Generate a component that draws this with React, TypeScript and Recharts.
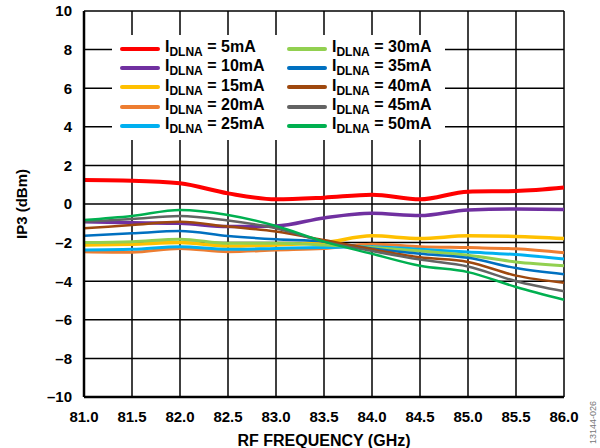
import React from "react";
import {
  LineChart, Line, XAxis, YAxis, CartesianGrid, Legend,
} from "recharts";

// RF frequency points (GHz)
const freqs = [81, 81.5, 82, 82.5, 83, 83.5, 84, 84.5, 85, 85.5, 86];

// IP3 (dBm) per LNA drain current
const ip3_5mA = [1.24, 1.21, 1.07, 0.55, 0.24, 0.33, 0.48, 0.24, 0.64, 0.67, 0.85];
const ip3_10mA = [-0.92, -0.97, -1.0, -1.17, -1.14, -0.72, -0.48, -0.6, -0.31, -0.26, -0.28];
const ip3_15mA = [-2.12, -2.08, -2.0, -2.18, -2.12, -2.0, -1.65, -1.79, -1.65, -1.68, -1.79];
const ip3_20mA = [-2.47, -2.5, -2.3, -2.47, -2.38, -2.3, -2.09, -2.21, -2.26, -2.32, -2.53];
const ip3_25mA = [-2.38, -2.35, -2.21, -2.35, -2.3, -2.25, -2.21, -2.35, -2.49, -2.62, -2.85];
const ip3_30mA = [-1.99, -1.95, -1.83, -2.04, -2.04, -2.12, -2.26, -2.44, -2.65, -3.0, -3.2];
const ip3_35mA = [-1.64, -1.52, -1.4, -1.66, -1.83, -1.95, -2.3, -2.58, -2.79, -3.32, -3.64];
const ip3_40mA = [-1.26, -1.09, -0.92, -1.17, -1.43, -1.87, -2.35, -2.76, -3.0, -3.71, -4.08];
const ip3_45mA = [-0.92, -0.78, -0.62, -0.86, -1.26, -1.95, -2.44, -2.88, -3.24, -4.0, -4.52];
const ip3_50mA = [-0.83, -0.62, -0.31, -0.57, -1.14, -1.95, -2.58, -3.2, -3.53, -4.3, -4.96];

const currents = ["5", "10", "15", "20", "25", "30", "35", "40", "45", "50"];
const seriesValues = [
  ip3_5mA, ip3_10mA, ip3_15mA, ip3_20mA, ip3_25mA,
  ip3_30mA, ip3_35mA, ip3_40mA, ip3_45mA, ip3_50mA,
];
const colors = [
  "#ff0000", "#7030a0", "#ffc000", "#ed7d31", "#00b0f0",
  "#92d050", "#0070c0", "#9e480e", "#636363", "#00b050",
];
const widths = [4, 3.5, 3.5, 3, 3, 3, 2.5, 2.5, 2.5, 2.5];

const xTicks = [81, 81.5, 82, 82.5, 83, 83.5, 84, 84.5, 85, 85.5, 86];
const yTicks = [-10, -8, -6, -4, -2, 0, 2, 4, 6, 8, 10];

const data = freqs.map((f, i) => {
  const row: Record<string, number> = { freq: f };
  currents.forEach((c, s) => {
    row["i" + c] = seriesValues[s][i];
  });
  return row;
});

const FONT = "'Liberation Sans', Arial, Helvetica, sans-serif";

function LegendItem({ idx }: { idx: number }) {
  return (
    <div style={{ display: "flex", alignItems: "center", height: 19.3 }}>
      <span
        style={{
          display: "inline-block",
          width: 40,
          height: 4,
          borderRadius: 2,
          background: colors[idx],
          marginRight: 5,
        }}
      />
      <span style={{ fontSize: 16, fontWeight: "bold", color: "#000", whiteSpace: "nowrap" }}>
        I<sub style={{ fontSize: 12, verticalAlign: "-4px" }}>DLNA</sub> = {currents[idx]}mA
      </span>
    </div>
  );
}

function LegendBox() {
  return (
    <div
      style={{
        background: "#fff",
        width: 333,
        height: 105,
        boxSizing: "border-box",
        padding: "4px 0 0 8px",
        display: "flex",
        fontFamily: FONT,
        lineHeight: 1,
      }}
    >
      <div style={{ width: 167 }}>
        {[0, 1, 2, 3, 4].map((i) => <LegendItem key={i} idx={i} />)}
      </div>
      <div>
        {[5, 6, 7, 8, 9].map((i) => <LegendItem key={i} idx={i} />)}
      </div>
    </div>
  );
}

const minus = (v: number) => (v < 0 ? "\u2013" + Math.abs(v) : String(v));

export default function App() {
  return (
    <div style={{ position: "absolute", left: 0, top: 0, width: 600, height: 448, background: "#fff", fontFamily: FONT, overflow: "hidden" }}>
      <LineChart
        width={600}
        height={448}
        data={data}
        margin={{ top: 11, right: 36, bottom: 0, left: 0 }}
      >
        <CartesianGrid stroke="#000" strokeWidth={1.5} />
        <XAxis
          dataKey="freq"
          type="number"
          domain={[81, 86]}
          ticks={xTicks}
          tickFormatter={(v: number) => v.toFixed(1)}
          tickLine={false}
          axisLine={{ stroke: "#000", strokeWidth: 2.5 }}
          tick={{ fontSize: 15, fontWeight: "bold", fill: "#000", fontFamily: FONT }}
          tickMargin={8}
          height={51}
          label={{ value: "RF FREQUENCY (GHz)", position: "insideBottom", offset: 2, fontSize: 16, fontWeight: "bold", fill: "#000", fontFamily: FONT }}
        />
        <YAxis
          type="number"
          domain={[-10, 10]}
          ticks={yTicks}
          tickFormatter={minus}
          tickLine={false}
          axisLine={{ stroke: "#000", strokeWidth: 2.5 }}
          tick={{ fontSize: 15, fontWeight: "bold", fill: "#000", fontFamily: FONT }}
          tickMargin={6}
          width={84}
          label={{ value: "IP3 (dBm)", angle: -90, position: "insideLeft", offset: 22, fontSize: 15, fontWeight: "bold", fill: "#000", fontFamily: FONT, style: { textAnchor: "middle" } }}
        />
        <Legend
          layout="horizontal"
          verticalAlign="middle"
          align="center"
          wrapperStyle={{ left: 112, top: 35, width: 333, height: 105 }}
          content={() => <LegendBox />}
        />
        {currents.map((c, s) => (
          <Line
            key={c}
            type="monotone"
            dataKey={"i" + c}
            stroke={colors[s]}
            strokeWidth={widths[s]}
            dot={false}
            isAnimationActive={false}
          />
        ))}
      </LineChart>
      <div
        style={{
          position: "absolute",
          left: 588,
          top: 444,
          transform: "rotate(-90deg)",
          transformOrigin: "left top",
          fontSize: 9,
          lineHeight: "10px",
          color: "#777",
          whiteSpace: "nowrap",
        }}
      >
        13144-026
      </div>
    </div>
  );
}
